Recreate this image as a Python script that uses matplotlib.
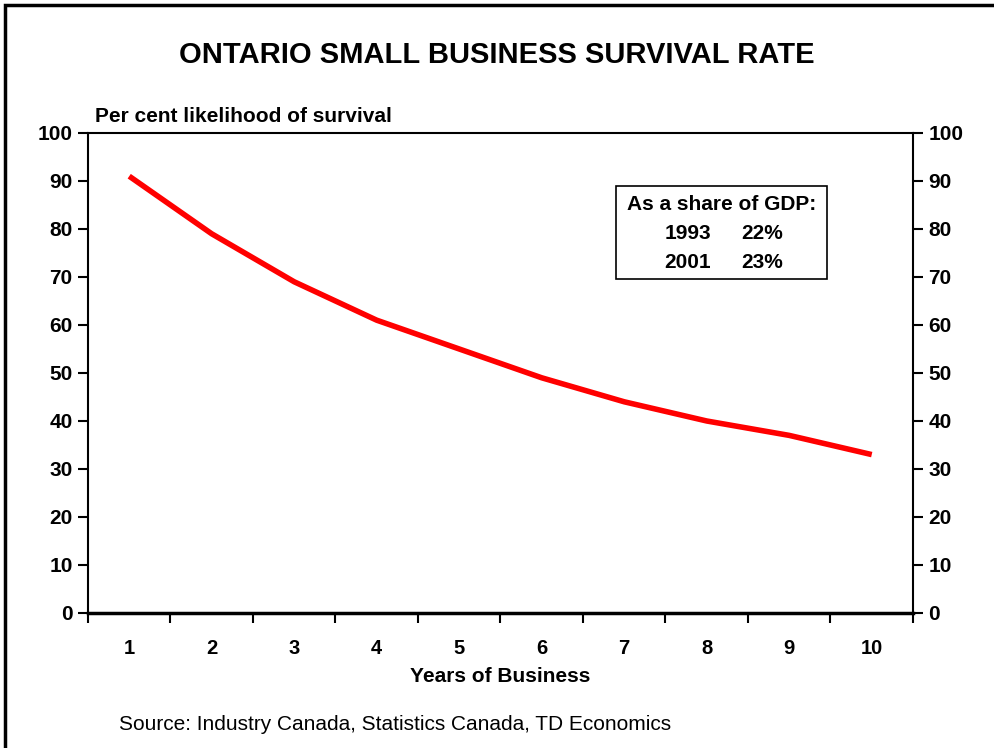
#!/usr/bin/env python3
"""
Ontario small business survival rate
"""
import matplotlib.pyplot as plt
from matplotlib.patches import Rectangle

plt.rcParams['font.family'] = ['Liberation Sans', 'DejaVu Sans']

years = [1, 2, 3, 4, 5, 6, 7, 8, 9, 10]
survival = [91, 79, 69, 61, 55, 49, 44, 40, 37, 33]
y_ticks = [0, 10, 20, 30, 40, 50, 60, 70, 80, 90, 100]
gdp_years = ['1993', '2001']
gdp_share = ['22%', '23%']


def main():
    fig = plt.figure(figsize=(9.94, 7.48), dpi=100, facecolor='white')
    ax = fig.add_axes([0.0885, 0.1805, 0.830, 0.6417])

    # outer frame (chart is cropped at right and bottom)
    fig.patches.append(Rectangle((0.005, -0.1), 1.2, 1.093, transform=fig.transFigure,
                                 fill=False, edgecolor='black', linewidth=2.5, clip_on=False))

    ax.plot(years, survival, color='#FF0000', linewidth=4, solid_capstyle='butt')

    ax.set_xlim(0.5, 10.5)
    ax.set_ylim(0, 100)
    ax.set_yticks(y_ticks)
    ax.set_xticks([y + 0.5 for y in [0] + years])
    ax.set_xticks(years, minor=True)
    ax.set_xticklabels([])
    ax.set_xticklabels([str(y) for y in years], minor=True)
    ax.tick_params(axis='x', which='major', direction='out', length=7, width=1.5)
    ax.tick_params(axis='x', which='minor', length=0, pad=19, labelsize=14.5)
    ax.tick_params(axis='y', direction='out', length=7, width=1.5, labelsize=15,
                   right=True, labelright=True, pad=4)
    for t in ax.xaxis.get_minor_ticks():
        t.label1.set_fontweight('bold')
    for t in ax.yaxis.get_major_ticks():
        t.label1.set_fontweight('bold')
        t.label2.set_fontweight('bold')
    for side in ['left', 'right', 'top']:
        ax.spines[side].set_linewidth(1.5)
    ax.spines['bottom'].set_linewidth(2.5)

    fig.text(0.5, 0.926, 'ONTARIO SMALL BUSINESS SURVIVAL RATE', ha='center', va='center',
             fontsize=21, fontweight='bold')
    fig.text(0.096, 0.844, 'Per cent likelihood of survival', ha='left', va='center',
             fontsize=15, fontweight='bold')
    ax.set_xlabel('Years of Business', fontsize=15, fontweight='bold', labelpad=6)
    fig.text(0.12, 0.031, 'Source: Industry Canada, Statistics Canada, TD Economics',
             ha='left', va='center', fontsize=15)

    # GDP share box
    ax.add_patch(Rectangle((0.640, 0.696), 0.256, 0.194, transform=ax.transAxes,
                           fill=False, edgecolor='black', linewidth=1.2))
    ax.text(0.768, 0.851, 'As a share of GDP:', transform=ax.transAxes, ha='center',
            va='center', fontsize=15, fontweight='bold')
    for i, (yr, sh) in enumerate(zip(gdp_years, gdp_share)):
        yy = 0.79 - i * 0.059
        ax.text(0.755, yy, yr, transform=ax.transAxes, ha='right', va='center',
                fontsize=15, fontweight='bold')
        ax.text(0.792, yy, sh, transform=ax.transAxes, ha='left', va='center',
                fontsize=15, fontweight='bold')

    fig.savefig('out.png', dpi=100, facecolor='white')
    plt.close(fig)


if __name__ == '__main__':
    main()
